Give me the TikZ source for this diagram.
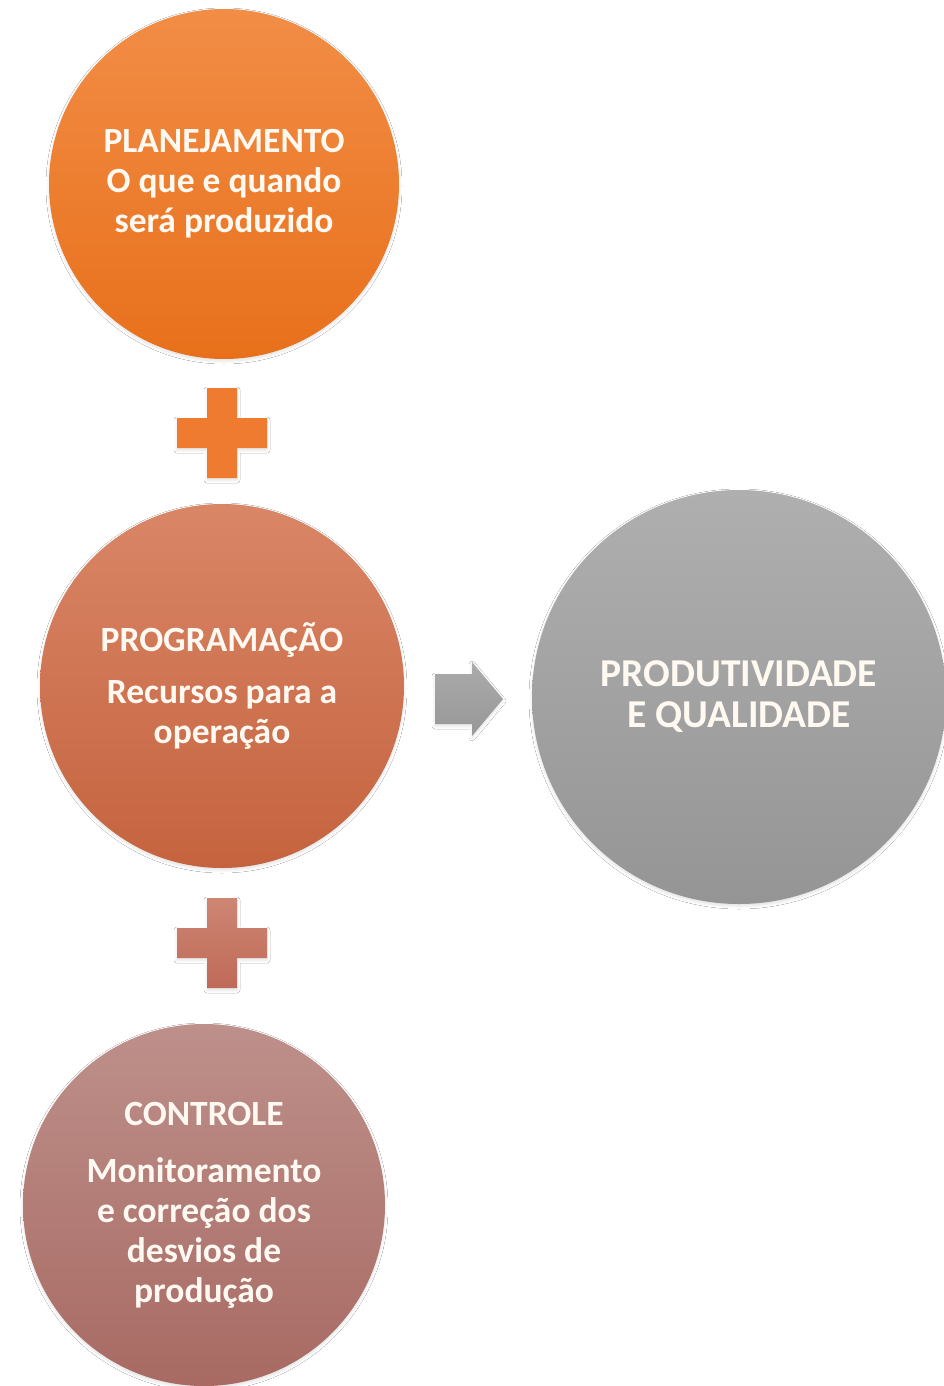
\documentclass[tikz,border=0pt]{standalone}
\usepackage{fontspec}
\setmainfont{Carlito}
\usetikzlibrary{shadows.blur}
\definecolor{planTop}{HTML}{F28D46}
\definecolor{planBot}{HTML}{E8701B}
\definecolor{progTop}{HTML}{D98667}
\definecolor{progBot}{HTML}{C5633E}
\definecolor{ctrlTop}{HTML}{BE908B}
\definecolor{ctrlBot}{HTML}{A86A63}
\definecolor{grayTop}{HTML}{AFAFAF}
\definecolor{grayBot}{HTML}{959595}
\definecolor{plusA}{HTML}{EE7B2F}
\definecolor{plusBTop}{HTML}{CD8672}
\definecolor{plusBBot}{HTML}{BF6A58}
\definecolor{arrTop}{HTML}{ABABAB}
\definecolor{arrBot}{HTML}{979797}
\definecolor{txt}{HTML}{FFF9F2}
\tikzset{
  softshadow/.style={blur shadow={shadow xshift=0pt, shadow yshift=-2pt, shadow blur radius=3pt, shadow opacity=12}},
  bubble/.style={circle, inner sep=0pt, draw=none, softshadow, text=txt, align=center,
    font=\fontsize{35.5}{40}\selectfont\bfseries},
}
\begin{document}
\begin{tikzpicture}[x=1pt,y=-1pt]
\useasboundingbox[fill=white] (0,0) rectangle (944,1386);
\begin{scope}
\clip (0,0) rectangle (944,1386);
% circles
\node[bubble, minimum size=350pt, top color=planTop, bottom color=planBot] (plan) at (224,184)
  {PLANEJAMENTO\\O que e quando\\será produzido};
\node[bubble, minimum size=364pt, top color=progTop, bottom color=progBot] (prog) at (222,686)
  {PROGRAMAÇÃO\\[12pt]Recursos para a\\operação};
\node[bubble, minimum size=362pt, top color=ctrlTop, bottom color=ctrlBot] (ctrl) at (204,1205)
  {CONTROLE\\[17pt]Monitoramento\\e correção dos\\desvios de\\produção};
\node[bubble, minimum size=414pt, top color=grayTop, bottom color=grayBot,
  font=\fontsize{39.5}{41}\selectfont\bfseries] (res) at (739,697)
  {PRODUTIVIDADE\\E QUALIDADE};
% plus signs
\coordinate (p1) at (222,433);
\coordinate (p2) at (222,943);
\fill[plusA, softshadow] ($(p1)+(-45,-15)$) -- ++(30,0) -- ++(0,-30) -- ++(30,0) -- ++(0,30) -- ++(30,0)
  -- ++(0,30) -- ++(-30,0) -- ++(0,30) -- ++(-30,0) -- ++(0,-30) -- ++(-30,0) -- cycle;
\shade[top color=plusBTop, bottom color=plusBBot, softshadow] ($(p2)+(-45,-15)$) -- ++(30,0) -- ++(0,-30) -- ++(30,0) -- ++(0,30) -- ++(30,0)
  -- ++(0,30) -- ++(-30,0) -- ++(0,30) -- ++(-30,0) -- ++(0,-30) -- ++(-30,0) -- cycle;
% arrow
\coordinate (a0) at (435,699);
\shade[top color=arrTop, bottom color=arrBot, softshadow] ($(a0)+(0,-25)$) -- ++(37,0) -- ++(0,-12) -- (503,699)
  -- ($(a0)+(37,37)$) -- ++(0,-12) -- ($(a0)+(0,25)$) -- cycle;
\end{scope}
\end{tikzpicture}
\end{document}
